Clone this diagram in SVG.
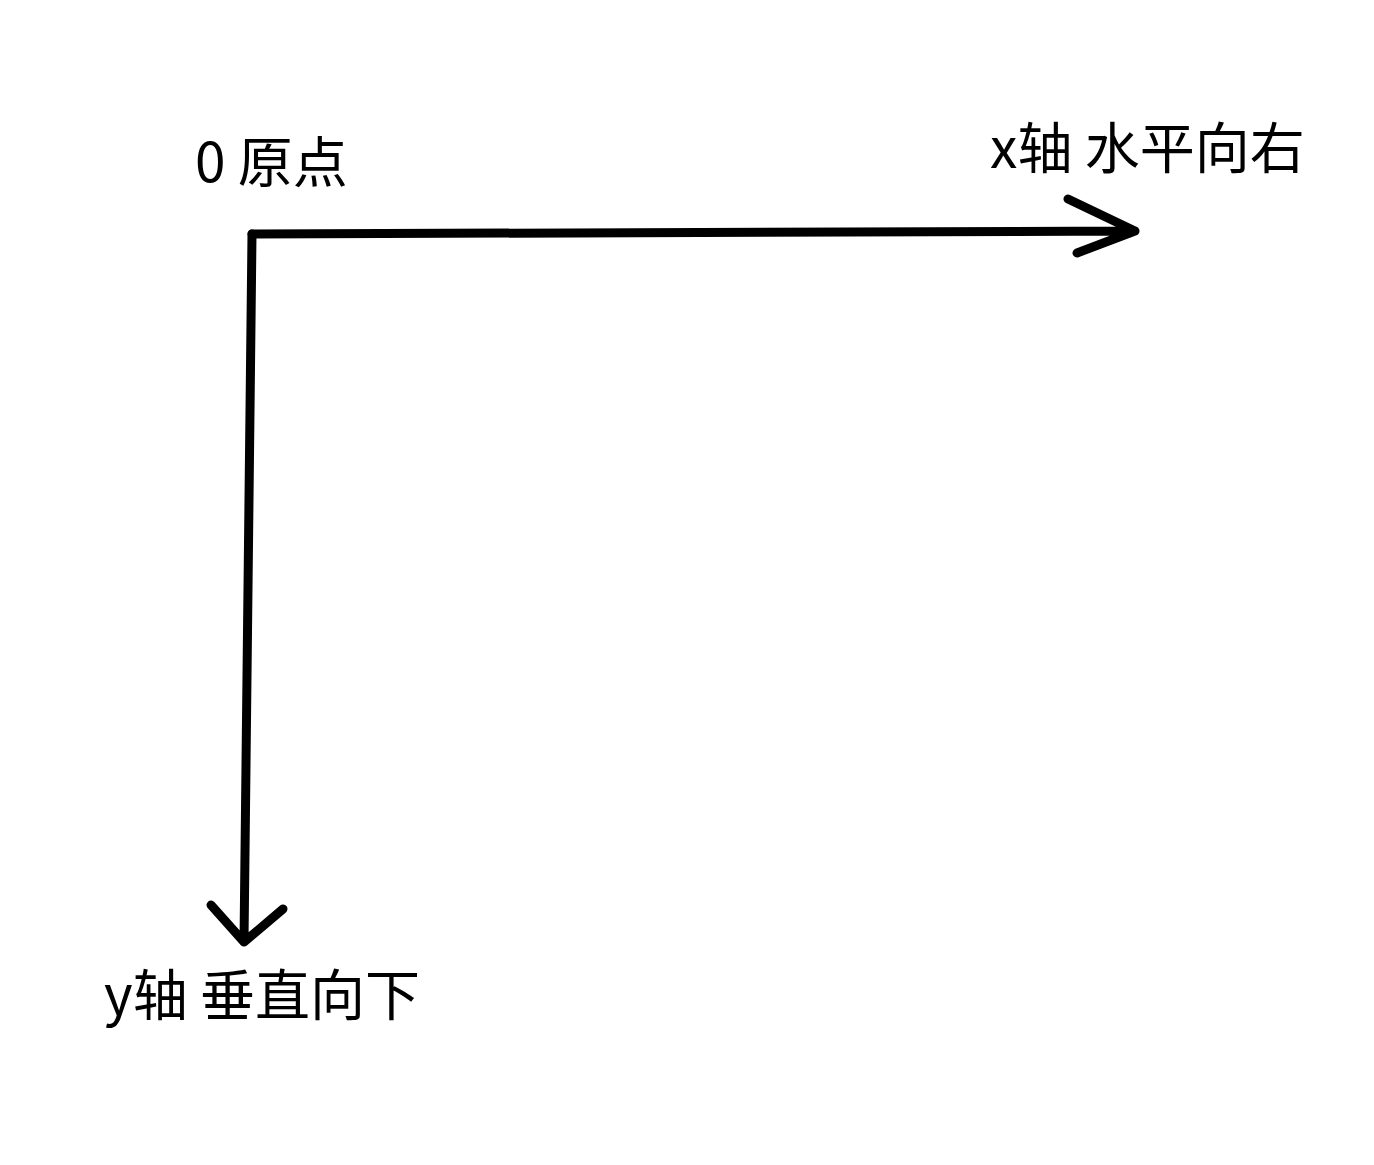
<svg xmlns="http://www.w3.org/2000/svg" width="1374" height="1165" viewBox="0 0 1374 1165">
<style>
.ax{fill:none;stroke:#000;stroke-width:9;stroke-linecap:round;stroke-linejoin:round}
.t{font-family:"Noto Sans CJK SC","Noto Sans",sans-serif;font-size:55px;fill:#000}
</style>
<rect width="1374" height="1165" fill="#fff"/>
<g id="connectors">
<path class="ax" d="M252 234 L1135 231 M1068 199 L1135 231 L1077 253"/>
<path class="ax" d="M252 234 L244 942 M211 905 L244 942 L283 909"/>
</g>
<g id="origin"><text class="t" x="195" y="182">0 原点</text></g>
<g id="xaxis"><text class="t" x="990" y="168">x轴 水平向右</text></g>
<g id="yaxis"><text class="t" x="104" y="1015">y轴 垂直向下</text></g>
</svg>
